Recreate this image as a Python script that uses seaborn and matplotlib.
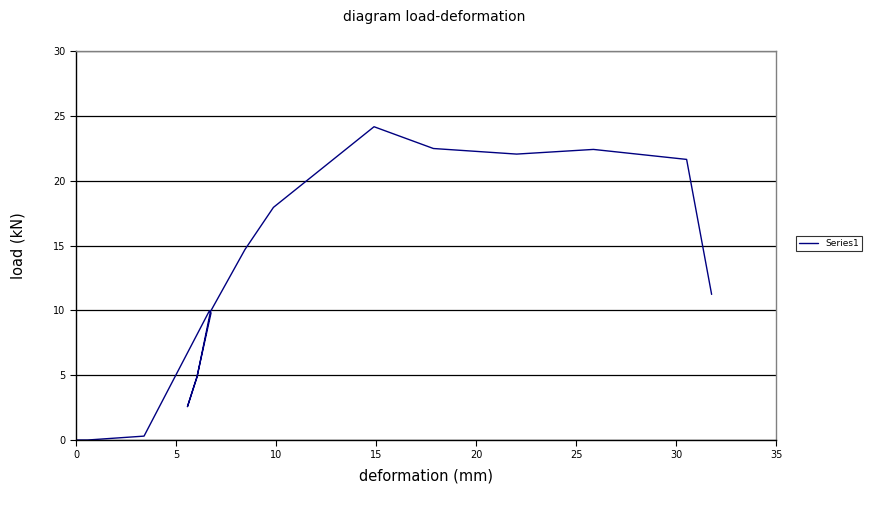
import matplotlib
matplotlib.use("Agg")
import matplotlib.pyplot as plt
import seaborn as sns
import pandas as pd

sns.set_style("white", {"xtick.bottom": True, "ytick.left": True,
                        "text.color": "black", "axes.labelcolor": "black",
                        "xtick.color": "black", "ytick.color": "black"})

# load-deformation readings
deformation = [0.0, 0.58, 3.4, 6.67, 6.75, 6.05, 5.57, 6.05, 6.72, 8.45, 9.87,
               14.9, 17.87, 22.03, 25.87, 30.53, 31.78]
load = [0.0, 0.0, 0.3, 9.97, 9.8, 4.9, 2.57, 4.85, 9.9, 14.7, 17.94,
        24.16, 22.48, 22.05, 22.41, 21.64, 11.23]

df = pd.DataFrame({"deformation": deformation, "load": load})

fig = plt.figure(figsize=(8.69, 5.05), dpi=100)
ax = fig.add_axes([0.0875, 0.1287, 0.8055, 0.7703])

sns.lineplot(data=df, x="deformation", y="load", sort=False, estimator=None,
             color="#000080", linewidth=1.0, ax=ax, label="Series1")

ax.set_xlim(0, 35)
ax.set_ylim(0, 30)
ax.set_xticks(range(0, 36, 5))
ax.set_yticks(range(0, 31, 5))
ax.tick_params(labelsize=7, length=4, width=0.8, color="black", direction="out")
ax.yaxis.grid(True, color="black", linewidth=0.9)
ax.xaxis.grid(False)
ax.set_axisbelow(True)

for side in ["left", "bottom"]:
    ax.spines[side].set_color("black")
    ax.spines[side].set_linewidth(1.0)
for side in ["top", "right"]:
    ax.spines[side].set_color("#808080")
    ax.spines[side].set_linewidth(1.0)

ax.set_xlabel("deformation (mm)", fontsize=10.5, labelpad=6)
ax.set_ylabel("load (kN)", fontsize=10.5, labelpad=20)
fig.suptitle("diagram load-deformation", fontsize=10, y=0.98)

leg = ax.legend(loc="center left", bbox_to_anchor=(1.022, 0.505), fontsize=6.5,
                frameon=True, fancybox=False, handlelength=2.2,
                borderpad=0.3, edgecolor="black")
leg.get_frame().set_linewidth(0.8)

fig.savefig("out.png", dpi=100)
